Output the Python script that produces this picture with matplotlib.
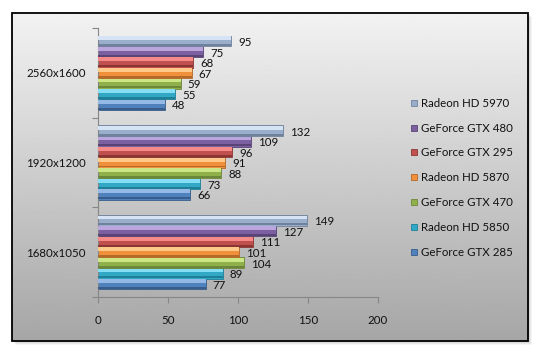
import numpy as np
import matplotlib.pyplot as plt
from matplotlib.patches import Rectangle
from matplotlib.lines import Line2D

plt.rcParams['font.family'] = ['Lato', 'DejaVu Sans']

resolutions = ['1680x1050', '1920x1200', '2560x1600']
cards = ['GeForce GTX 285', 'Radeon HD 5850', 'GeForce GTX 470', 'Radeon HD 5870',
         'GeForce GTX 295', 'GeForce GTX 480', 'Radeon HD 5970']
gtx285 = [77, 66, 48]
hd5850 = [89, 73, 55]
gtx470 = [104, 88, 59]
hd5870 = [101, 91, 67]
gtx295 = [111, 96, 68]
gtx480 = [127, 109, 75]
hd5970 = [149, 132, 95]
x_ticks = [0, 50, 100, 150, 200]

series = [gtx285, hd5850, gtx470, hd5870, gtx295, gtx480, hd5970]
# (light top, body, dark bottom) for the bevel look
colors = [
    ('#95b9e6', '#4f81bd', '#385d8a'),
    ('#86def5', '#31a9c6', '#1f7f97'),
    ('#cde685', '#8fb04a', '#6c8739'),
    ('#ffc98a', '#f0903a', '#b4692a'),
    ('#f58a88', '#c0504d', '#8c3634'),
    ('#bba5dd', '#7c5fa0', '#5a4476'),
    ('#d6e3f5', '#98aecb', '#6f819b'),
]

W, H = 537, 355
fig = plt.figure(figsize=(W / 100, H / 100), dpi=100)
fig.patch.set_facecolor('white')

# background frame with gradient + soft shadow
bg = fig.add_axes([0, 0, 1, 1])
bg.set_xlim(0, W)
bg.set_ylim(H, 0)
bg.axis('off')
for k, a in enumerate([0.04, 0.05, 0.06, 0.08]):
    off = 4 - k
    bg.add_patch(Rectangle((12 + off, 13 + off), 516, 328, facecolor='black',
                           alpha=a, edgecolor='none', zorder=0))
grad = np.linspace(0.95, 0.65, 256).reshape(-1, 1)
bg.imshow(grad, cmap='gray', vmin=0, vmax=1, extent=[12, 528, 341, 13],
          aspect='auto', zorder=1)
bg.add_patch(Rectangle((12, 13), 516, 328, facecolor='none', edgecolor='black',
                       linewidth=1.3, zorder=2))

ax = fig.add_axes([98 / W, (H - 297) / H, 280 / W, 269 / H])
ax.patch.set_alpha(0)

bh = 0.118
y = np.arange(len(resolutions))
for i, (vals, name, (lt, mid, dk)) in enumerate(zip(series, cards, colors)):
    pos = y + (i - 3) * bh
    ax.barh(pos, vals, height=bh, color=mid, edgecolor=dk, linewidth=0.6, zorder=2)
    ax.barh(pos + bh * 0.27, vals, height=bh * 0.36, color=lt, linewidth=0, zorder=3)
    ax.barh(pos - bh * 0.38, vals, height=bh * 0.18, color=dk, linewidth=0, zorder=3)
    for p, v in zip(pos, vals):
        ax.annotate(str(v), (v, p), xytext=(5, -1), textcoords='offset points',
                    va='center', ha='left', fontsize=8.3, color='#111111')

ax.set_xlim(0, 200)
ax.set_ylim(-0.5, 2.5)
ax.set_xticks(x_ticks)
ax.set_xticklabels([str(t) for t in x_ticks])
ax.set_yticks([-0.5, 0.5, 1.5, 2.5])
ax.set_yticklabels([])
ax.set_yticks(y, minor=True)
ax.set_yticklabels(resolutions, minor=True)
ax.tick_params(axis='y', which='major', length=4, color='#868686', direction='out')
ax.tick_params(axis='y', which='minor', length=0, pad=9, labelsize=8.3, labelcolor='#111111')
ax.tick_params(axis='x', length=4, color='#868686', pad=9, labelsize=8.3, labelcolor='#111111')
for s in ['top', 'right']:
    ax.spines[s].set_visible(False)
for s in ['left', 'bottom']:
    ax.spines[s].set_color('#868686')

handles = [Line2D([], [], marker='s', linestyle='none', markersize=5,
                  markerfacecolor=c[1], markeredgecolor=c[2], markeredgewidth=0.6)
           for c in colors]
fig.legend(handles[::-1], cards[::-1], loc='upper left',
           bbox_to_anchor=(404 / W, 1 - 92 / H), frameon=False, fontsize=8.3,
           labelspacing=1.2, handlelength=0.7, handletextpad=0.3, borderpad=0,
           labelcolor='#111111')

fig.savefig('out.png', dpi=100)
